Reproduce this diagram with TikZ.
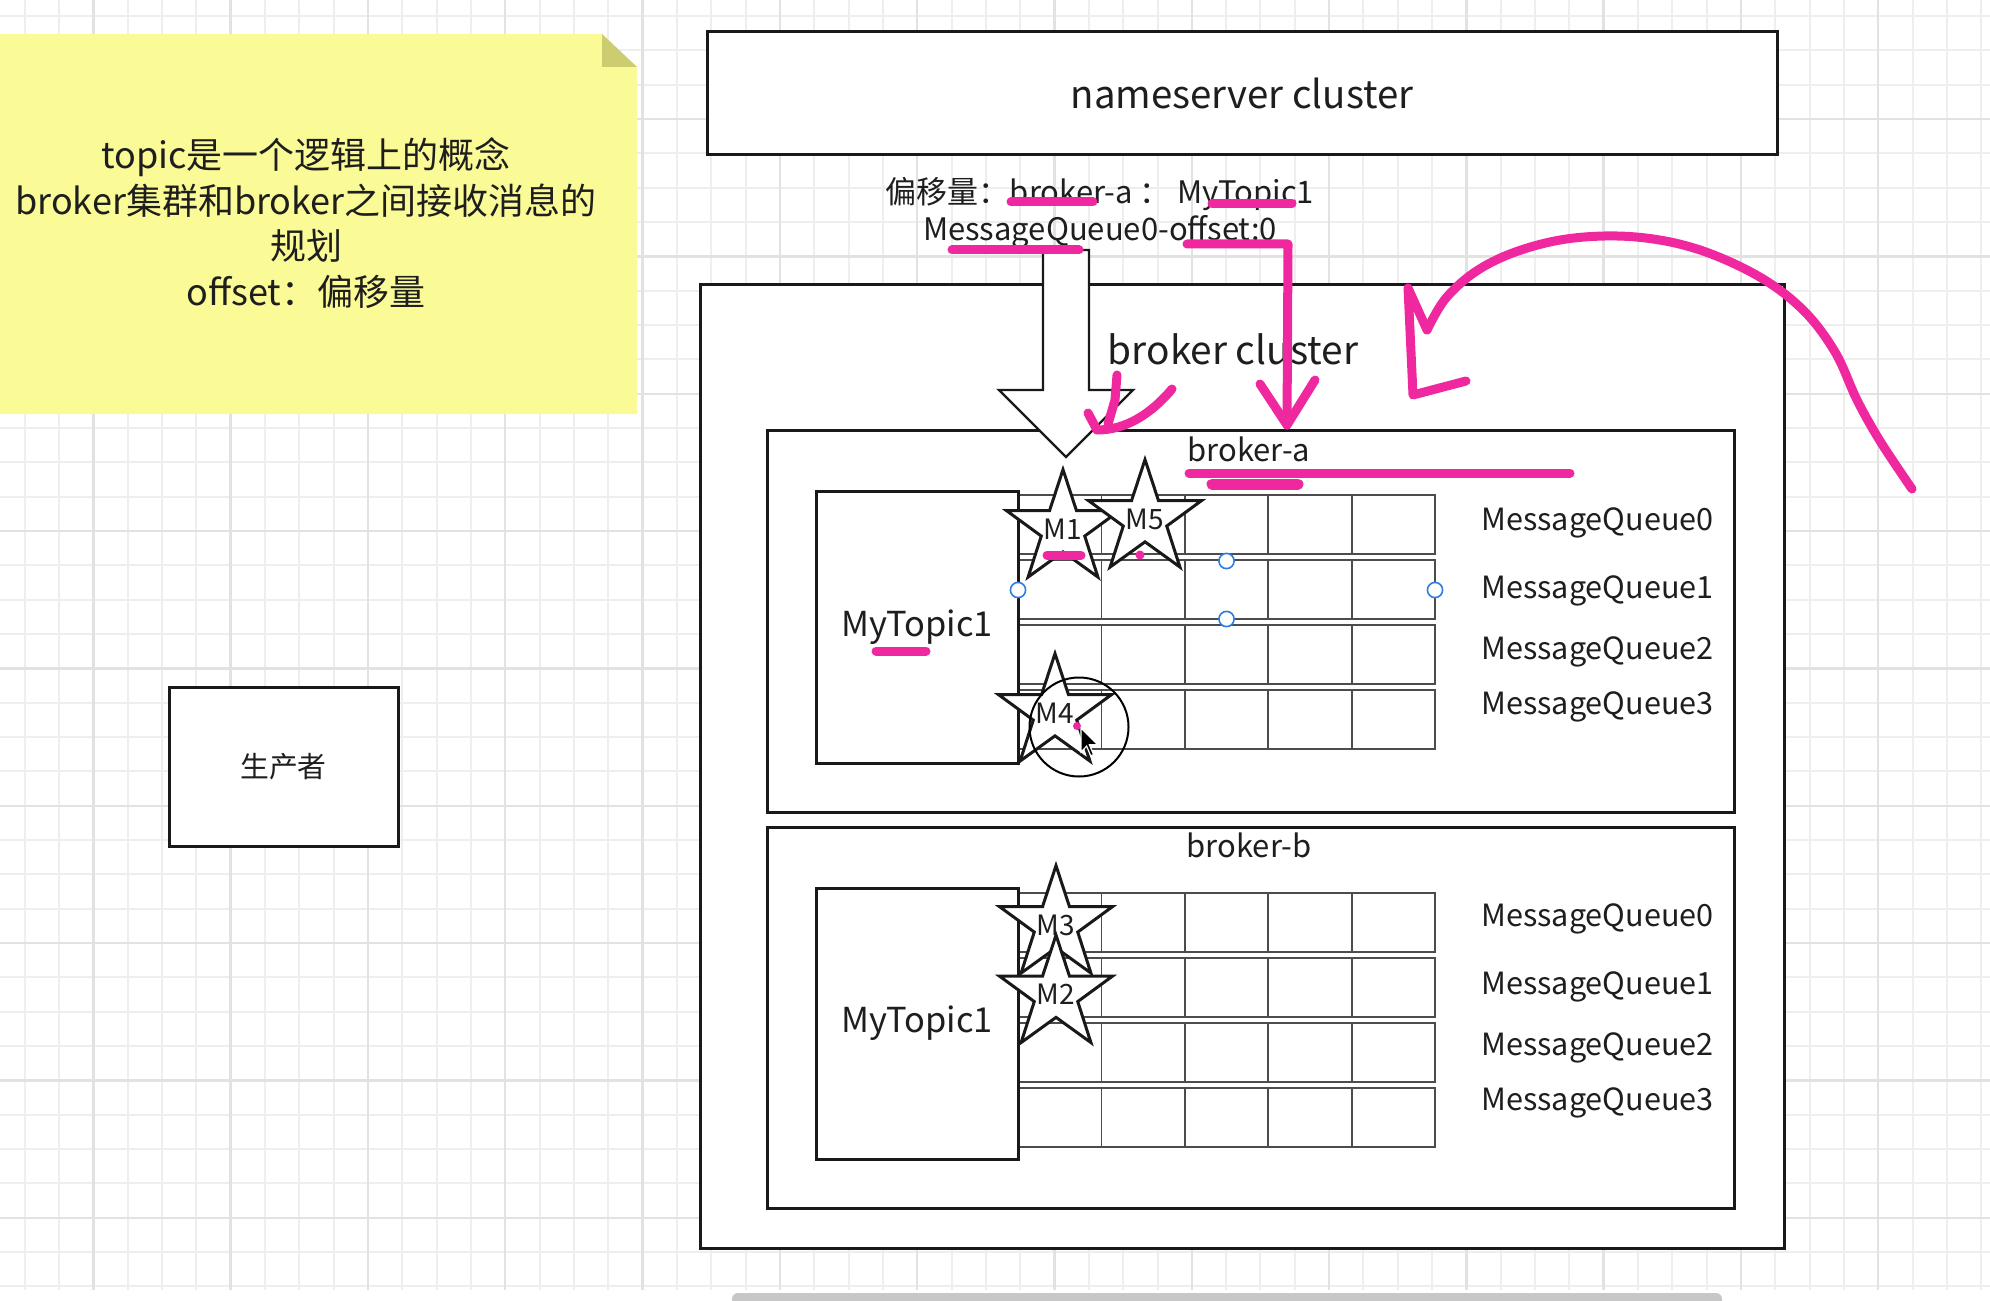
\documentclass[tikz,border=0pt]{standalone}
\usepackage{fontspec}
\setmainfont{Noto Sans CJK SC}
\usepackage{xcolor}
\usepackage{tikz}
\usetikzlibrary{shapes.geometric, backgrounds}

\definecolor{notebg}{RGB}{250,250,150}
\definecolor{notefold}{RGB}{204,204,112}
\definecolor{inkpink}{RGB}{240,40,160}
\definecolor{handleblue}{RGB}{45,125,225}
\definecolor{gridminor}{RGB}{238,238,238}
\definecolor{gridmajor}{RGB}{226,226,226}
\definecolor{txt}{RGB}{30,30,30}

\begin{document}
\begin{tikzpicture}[
  x=0.5pt, y=-0.5pt,
  every node/.style = {text=txt},
  box/.style    = {rectangle, draw=black!90, line width=1.5pt, fill=white, inner sep=0pt},
  qcell/.style  = {draw=black!70, line width=0.9pt},
  qlabel/.style = {anchor=west, inner sep=0pt, font=\fontsize{15.3}{15.3}\selectfont},
  msg/.style    = {star, star points=5, star point ratio=2.6, draw=black!90,
                   line width=1.5pt, fill=white, minimum size=59.4pt, inner sep=0pt,
                   label={[font=\fontsize{14}{14}\selectfont, text=txt]center:#1}},
  handle/.style = {circle, draw=handleblue, line width=0.8pt, fill=white,
                   minimum size=7.6pt, inner sep=0pt},
  ink/.style    = {draw=inkpink, line width=4.5pt, line cap=round, line join=round},
  hollow/.style = {draw=black!90, line width=1.2pt, fill=white},
  gmin/.style   = {draw=gridminor, line width=1pt},
  gmaj/.style   = {draw=gridmajor, line width=1.2pt}
]

\useasboundingbox (0,0) rectangle (1990,1300);
\fill[white] (0,0) rectangle (1990,1300);

%% ── CANVAS GRID ──────────────────────────────────────────────────
\foreach \i in {0,...,57}
  \draw[gmin] ({24.6+34.33*\i},0) -- ++(0,1290);
\foreach \j in {0,...,37}
  \draw[gmin] (0,{16.1+34.33*\j}) -- ++(1990,0);
\foreach \i in {0,...,13}
  \draw[gmaj] ({93.3+137.3*\i},0) -- ++(0,1290);
\foreach \j in {0,...,8}
  \draw[gmaj] (0,{119.3+137.3*\j}) -- ++(1990,0);
\fill[black!22, rounded corners=3pt] (732,1293) rectangle (1722,1308);

%% ── NOTE ─────────────────────────────────────────────────────────
\fill[notebg]   (0,34) -- (602,34) -- (637,67) -- (637,414) -- (0,414) -- cycle;
\fill[notefold] (602,34) -- (637,67) -- (602,67) -- cycle;
\node[align=center, font=\fontsize{18}{22.8}\selectfont] (note) at (306,223)
  {topic是一个逻辑上的概念\\broker集群和broker之间接收消息的\\规划\\offset：偏移量};

%% ── PRODUCER ─────────────────────────────────────────────────────
\node[box, minimum width=114.5pt, minimum height=79.5pt,
      font=\fontsize{14.4}{14.4}\selectfont] (producer) at (283.5,766.5) {生产者};

%% ── NAMESERVER + OFFSET TEXT ─────────────────────────────────────
\node[box, minimum width=535pt, minimum height=61.5pt,
      font=\fontsize{19.2}{19.2}\selectfont] (nameserver) at (1242,93.5) {nameserver cluster};
\node[align=center, font=\fontsize{15.5}{18.5}\selectfont] (offset) at (1100,213)
  {偏移量：broker-a\ ：\ MyTopic1\\MessageQueue0-offset:0};

%% ── BROKER CLUSTER ───────────────────────────────────────────────
\node[box, minimum width=542pt, minimum height=482pt] (cluster) at (1242,766) {};
\node[font=\fontsize{19.4}{19.4}\selectfont] (clusterlbl) at (1233,349) {broker cluster};

\node[box, minimum width=483.5pt, minimum height=191pt]   (brokerA) at (1250.5,621) {};
\node[box, minimum width=483.5pt, minimum height=190.5pt] (brokerB) at (1250.5,1017.5) {};
\node[font=\fontsize{15.5}{15.5}\selectfont] (lblA) at (1249,449) {broker-a};
\node[font=\fontsize{15.5}{15.5}\selectfont] (lblB) at (1249,845) {broker-b};

%% ── QUEUES ───────────────────────────────────────────────────────
\foreach \y in {495,560,625,690}
  \foreach \c in {0,...,4}
    \draw[qcell] ({1018+83.4*\c},\y) rectangle ++(83.4,59);
\foreach \y in {893,958,1023,1088}
  \foreach \c in {0,...,4}
    \draw[qcell] ({1018+83.4*\c},\y) rectangle ++(83.4,59);

\node[box, minimum width=101pt, minimum height=136pt,
      font=\fontsize{17.2}{17.2}\selectfont] (topicA) at (917,627) {MyTopic1};
\node[box, minimum width=101pt, minimum height=135.5pt,
      font=\fontsize{17.2}{17.2}\selectfont] (topicB) at (917,1023.5) {MyTopic1};

\foreach \q/\y in {0/523,1/591,2/652,3/707}
  \node[qlabel] (qa\q) at (1481,\y) {MessageQueue\q};
\foreach \q/\y in {0/919,1/987,2/1048,3/1103}
  \node[qlabel] (qb\q) at (1481,\y) {MessageQueue\q};

%% ── HOLLOW ARROW ─────────────────────────────────────────────────
\draw[hollow] (1043,250) -- (1043,390) -- (999,390) -- (1066,457)
  -- (1133,390) -- (1089,390) -- (1089,250) -- cycle;

%% ── MESSAGES ─────────────────────────────────────────────────────
\node[msg=M1] (m1) at (1063,529) {};
\node[msg=M5] (m5) at (1145,519) {};
\node[msg=M4] (m4) at (1055,713) {};
\node[msg=M3] (m3) at (1056,925) {};
\node[msg=M2] (m2) at (1056,994.5) {};

%% ── SELECTION ────────────────────────────────────────────────────
\node[handle] (hl) at (1018,590) {};
\node[handle] (ht) at (1226.5,561) {};
\node[handle] (hr) at (1435,590) {};
\node[handle] (hb) at (1226.5,619) {};
\node[circle, draw=black, line width=1pt, minimum size=49.5pt, inner sep=0pt] (click) at (1079,727) {};

%% ── PEN STROKES ──────────────────────────────────────────────────
\draw[ink] (1011,202) -- (1093,202);
\draw[ink] (1212,204) -- (1292,204);
\draw[ink] (952,250) -- (1079,250);
\draw[ink] (1187,244) -- (1288,244) -- (1287,425);
\draw[ink] (1260,384) -- (1287,425) -- (1315,380);
\draw[ink] (1117,375) -- (1115,400) -- (1108,424);
\draw[ink] (1172,389) .. controls (1150,415) and (1125,430) .. (1097,430) -- (1088,413);
\draw[ink] plot[smooth, tension=0.6] coordinates {(1912,489) (1880,441) (1857,400)
  (1835,352) (1803,310) (1758,276) (1697,249) (1636,237) (1574,238) (1521,250)
  (1478,270) (1446,298) (1427,330)};
\draw[ink] (1427,330) -- (1408,288) -- (1413,395) -- (1466,381);
\draw[ink] (1189,473) -- (1570,473);
\draw[ink, line width=5.5pt] (1212,484) -- (1298,484);
\draw[ink] (1047,555) -- (1081,555);
\fill[inkpink] (1140,555) circle (4.5);
\draw[ink] (876,651) -- (926,651);
\fill[inkpink] (1077,726) circle (4);

%% ── POINTER ──────────────────────────────────────────────────────
\draw[fill=black, draw=white, line width=0.6pt] (1081,728) -- ++(0,24) -- ++(5.6,-5.8)
  -- ++(4.2,9.8) -- ++(2.8,-1.4) -- ++(-4.2,-9.8) -- ++(8.4,0) -- cycle;

\end{tikzpicture}
\end{document}
